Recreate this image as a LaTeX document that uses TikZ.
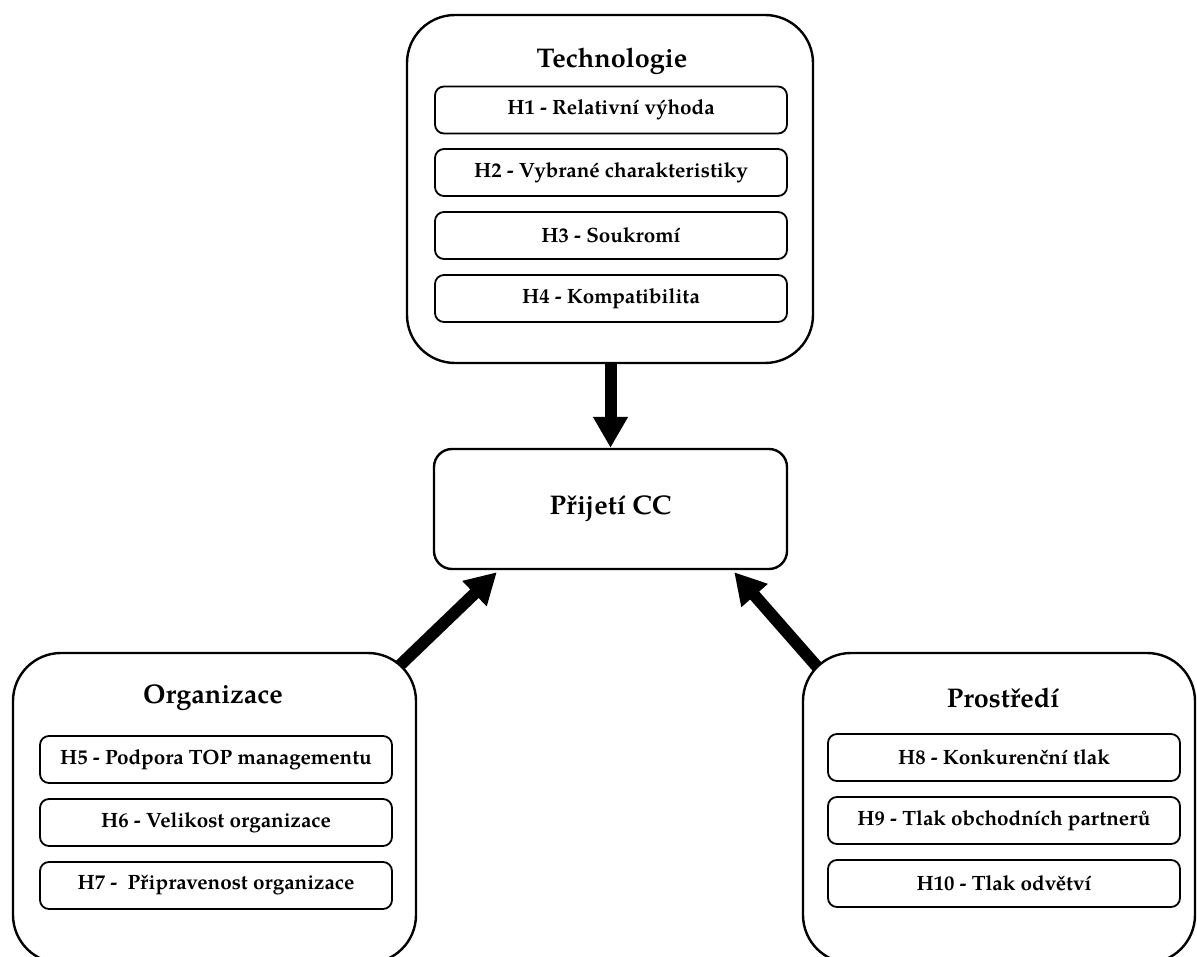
\documentclass[tikz,border=0pt]{standalone}
\usepackage{fontspec}
\setmainfont{texgyrepagella}[Extension=.otf,UprightFont=*-regular,BoldFont=*-bold,ItalicFont=*-italic,BoldItalicFont=*-bolditalic]
\usetikzlibrary{arrows.meta,backgrounds}
\tikzset{
  outerbox/.style={draw,line width=2.4pt,fill=white,rounded corners=48pt,inner sep=0pt},
  itembox/.style={draw,line width=1.8pt,fill=white,rounded corners=9pt,minimum width=352pt,minimum height=47pt,inner sep=0pt,font=\fontsize{20.7}{24}\selectfont\bfseries},
  titletext/.style={font=\fontsize{27}{32}\selectfont\bfseries,inner sep=0pt},
  centerbox/.style={draw,line width=2.4pt,fill=white,rounded corners=18pt,minimum width=353pt,minimum height=120pt,inner sep=0pt,font=\fontsize{27}{32}\selectfont\bfseries},
  bigarrow/.style={line width=12pt,-{Triangle[length=31pt,width=33pt]}}
}
\begin{document}
\begin{tikzpicture}[x=1pt,y=-1pt]
\useasboundingbox (0,0) rectangle (1197,957);
\clip (0,0) rectangle (1197,957);
% Technologie
\node[outerbox,minimum width=406pt,minimum height=348pt] (tech) at (610,189) {};
\node[titletext] (techtitle) at (612,61) {Technologie};
\node[itembox] (h1) at (611,110) {H1 - Relativní výhoda};
\node[itembox] (h2) at (611,172.5) {H2 - Vybrané charakteristiky};
\node[itembox] (h3) at (611,235.5) {H3 - Soukromí};
\node[itembox] (h4) at (611,298.5) {H4 - Kompatibilita};
% center
\node[centerbox] (adopt) at (610.5,509) {Přijetí CC};
% Organizace
\node[outerbox,minimum width=403pt,minimum height=310pt] (org) at (214.5,808) {};
\node[titletext] (orgtitle) at (213,698) {Organizace};
\node[itembox] (h5) at (216,759.5) {H5 - Podpora TOP managementu};
\node[itembox] (h6) at (216,822.5) {H6 - Velikost organizace};
\node[itembox] (h7) at (216,885.5) {H7 -~ Připravenost organizace};
% Prostredi
\node[outerbox,minimum width=392pt,minimum height=310pt] (env) at (999,808) {};
\node[titletext] (envtitle) at (1003,698) {Prostředí};
\node[itembox] (h8) at (1004,757.5) {H8 - Konkurenční tlak};
\node[itembox] (h9) at (1004,820.5) {H9 - Tlak obchodních partnerů};
\node[itembox] (h10) at (1004,883.5) {H10 - Tlak odvětví};
% arrows
\begin{scope}[on background layer]
\draw[bigarrow] (adopt.north |- tech.south) -- (adopt.north);
\draw[bigarrow] ([xshift=-22pt,yshift=-18pt]org.north east) -- ([xshift=64pt,yshift=-2pt]adopt.south west);
\draw[bigarrow] ([xshift=18pt,yshift=-18pt]env.north west) -- ([xshift=-54pt,yshift=-2pt]adopt.south east);
\end{scope}
\end{tikzpicture}
\end{document}
